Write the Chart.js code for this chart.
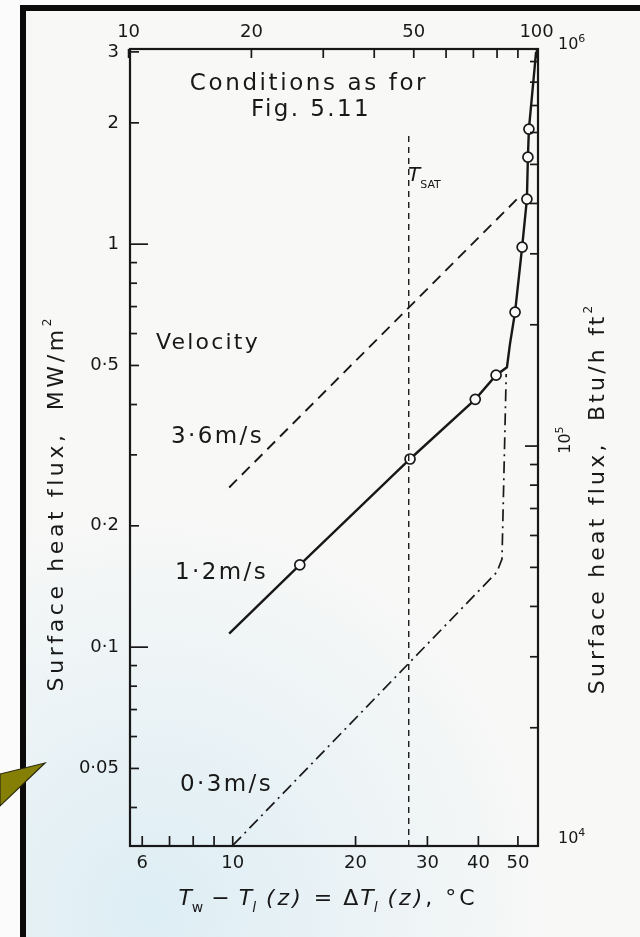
<!DOCTYPE html>
<html><head><meta charset="utf-8">
<script src="https://cdn.jsdelivr.net/npm/chart.js@4.4.1/dist/chart.umd.min.js"></script>
<style>html,body{margin:0;padding:0;background:#fff;}canvas{display:block;}</style>
</head><body>
<canvas id="c" width="640" height="937"></canvas>
<script>
// ---------------- data ----------------
// x: temperature difference, degC (bottom axis); y: surface heat flux, MW/m^2
const xLimitsC = [5.6, 56];
const yLimitsMW = [0.0321, 3.05];

// 3.6 m/s (dashed)
const v36X = [9.8, 50.6];
const v36Y = [0.249, 1.316];

// 1.2 m/s (solid with circles)
const v12X = [9.8, 14.6, 27.2, 39.3, 44.2, 47.0, 47.8, 49.2, 51.2, 52.6, 52.9, 53.2, 55.4];
const v12Y = [0.108, 0.160, 0.293, 0.412, 0.473, 0.495, 0.565, 0.678, 0.983, 1.293, 1.644, 1.93, 3.0];
const v12Circle = [0, 1, 1, 1, 1, 0, 0, 1, 1, 1, 1, 1, 0];

// 0.3 m/s (dash-dot)
const v03X = [10.0, 44.4, 45.7, 46.8];
const v03Y = [0.0322, 0.1535, 0.1654, 0.476];

// T_SAT vertical reference line
const tsatX = [27.0, 27.0];
const tsatY = [0.0321, 1.9];

// ticks
const bottomTickLabels = [6, 10, 20, 30, 40, 50];
const bottomMinorTicks = [7, 8, 9];
const topTickLabels = [10, 20, 50, 100];
const topMinorTicks = [30, 40, 60, 70, 80, 90];
const leftTickLabels = [3, 2, 1, 0.5, 0.2, 0.1, 0.05];
const leftMajorTicks = [1, 0.1];
const leftMinorTicks = [0.9, 0.8, 0.7, 0.6, 0.4, 0.3, 0.09, 0.08, 0.07, 0.06, 0.04];
const rightTickLabels = [1e4, 1e5, 1e6];
const rightMinorTicks = [2e4, 3e4, 4e4, 5e4, 6e4, 7e4, 8e4, 9e4, 2e5, 3e5, 4e5, 5e5, 6e5, 7e5, 8e5, 9e5];

// unit conversions for the secondary axes
const C_TO_F_DIFF = 1.8;
const BTU_PER_MW = 1 / 3.1546e-6;

// ---------------- rendering ----------------
const FONT = '"DejaVu Sans", sans-serif';
const INK = '#181818';
const pts = (xs, ys) => xs.map((x, i) => ({x, y: ys[i]}));

function drawRuns(ctx, runs, cx, cy, align) {
  let total = 0;
  runs.forEach(r => {
    ctx.font = (r.italic ? 'italic ' : '') + r.size + 'px ' + FONT;
    ctx.letterSpacing = (r.ls || 0) + 'px';
    r.w = ctx.measureText(r.t).width;
    total += r.w;
  });
  let x = align === 'left' ? cx : cx - total / 2;
  runs.forEach(r => {
    ctx.font = (r.italic ? 'italic ' : '') + r.size + 'px ' + FONT;
    ctx.letterSpacing = (r.ls || 0) + 'px';
    ctx.fillText(r.t, x, cy + (r.dy || 0));
    x += r.w;
  });
  ctx.letterSpacing = '0px';
}

const deco = {
  id: 'deco',
  beforeDraw(chart) {
    const ctx = chart.ctx;
    ctx.save();
    ctx.fillStyle = '#fbfbfb';
    ctx.fillRect(0, 0, 640, 937);
    ctx.fillStyle = '#f8f8f7';
    ctx.fillRect(26, 11, 614, 926);
    const g = ctx.createRadialGradient(150, 910, 10, 150, 910, 400);
    g.addColorStop(0, 'rgba(220,237,244,0.95)');
    g.addColorStop(1, 'rgba(220,237,244,0)');
    ctx.fillStyle = g;
    ctx.fillRect(26, 11, 614, 926);
    ctx.fillStyle = '#0b0b0b';
    ctx.fillRect(20, 5, 620, 6);
    ctx.fillRect(20, 5, 6, 932);
    ctx.restore();
  },
  afterDraw(chart) {
    const {ctx, chartArea: a, scales} = chart;
    ctx.save();
    ctx.strokeStyle = INK;
    ctx.fillStyle = INK;
    ctx.lineWidth = 2.2;
    ctx.strokeRect(a.left, a.top, a.right - a.left, a.bottom - a.top);

    const line = (x1, y1, x2, y2, w) => {
      ctx.lineWidth = w || 1.7;
      ctx.beginPath(); ctx.moveTo(x1, y1); ctx.lineTo(x2, y2); ctx.stroke();
    };
    bottomTickLabels.concat(bottomMinorTicks).forEach(v => {
      const x = scales.x.getPixelForValue(v); line(x, a.bottom, x, a.bottom - 10);
    });
    topTickLabels.concat(topMinorTicks).forEach(v => {
      const x = scales.x2.getPixelForValue(v); line(x, a.top, x, a.top + 9);
    });
    leftTickLabels.forEach(v => {
      const y = scales.y.getPixelForValue(v);
      line(a.left, y, a.left + (leftMajorTicks.includes(v) ? 18 : 9), y);
    });
    leftMinorTicks.forEach(v => {
      const y = scales.y.getPixelForValue(v); line(a.left, y, a.left + 7, y);
    });
    rightMinorTicks.forEach(v => {
      const y = scales.y2.getPixelForValue(v); line(a.right, y, a.right - 8, y);
    });
    rightTickLabels.forEach(v => {
      const y = scales.y2.getPixelForValue(v);
      if (y > a.top && y < a.bottom) line(a.right, y, a.right - 13, y);
    });

    // right axis labels 10^4, 10^5 (rotated), 10^6
    ctx.textBaseline = 'middle';
    rightTickLabels.forEach(v => {
      const y = scales.y2.getPixelForValue(v);
      const e = String(Math.round(Math.log10(v)));
      if (v === 1e5) {
        ctx.save();
        ctx.translate(a.right + 28, y - 6);
        ctx.rotate(-Math.PI / 2);
        drawRuns(ctx, [{t: '10', size: 16}, {t: e, size: 11, dy: -6}], 0, 0, 'center');
        ctx.restore();
      } else {
        drawRuns(ctx, [{t: '10', size: 16}, {t: e, size: 11, dy: -6}], a.right + 20, v === 1e4 ? y - 10 : y + 2, 'left');
      }
    });

    // annotations
    ctx.textBaseline = 'middle';
    drawRuns(ctx, [{t: 'Conditions as for', size: 23, ls: 2.6}], 309, 84, 'center');
    drawRuns(ctx, [{t: 'Fig. 5.11', size: 23, ls: 2.4}], 311, 110, 'center');
    drawRuns(ctx, [{t: 'Velocity', size: 22, ls: 2.2}], 156, 343, 'left');
    drawRuns(ctx, [{t: '3·6m/s', size: 23, ls: 2.4}], 171, 437, 'left');
    drawRuns(ctx, [{t: '1·2m/s', size: 23, ls: 2.4}], 175, 573, 'left');
    drawRuns(ctx, [{t: '0·3m/s', size: 23, ls: 2.4}], 180, 785, 'left');

    ctx.textBaseline = 'alphabetic';
    drawRuns(ctx, [{t: 'T', size: 20, italic: true}, {t: 'SAT', size: 11, dy: 7}], 408, 181, 'left');

    // bottom axis title
    drawRuns(ctx, [
      {t: 'T', size: 22, italic: true}, {t: 'w', size: 14, dy: 7},
      {t: ' − ', size: 22, ls: 1}, {t: 'T', size: 22, italic: true}, {t: 'l', size: 14, dy: 7, italic: true},
      {t: ' (z) ', size: 22, italic: true, ls: 3}, {t: '= Δ', size: 22, ls: 2}, {t: 'T', size: 22, italic: true},
      {t: 'l', size: 14, dy: 7, italic: true}, {t: ' (z)', size: 22, italic: true, ls: 3}, {t: ', °C', size: 22, ls: 3}
    ], 328, 905, 'center');

    // left / right axis titles
    ctx.textBaseline = 'middle';
    ctx.save();
    ctx.translate(57, 505); ctx.rotate(-Math.PI / 2);
    drawRuns(ctx, [{t: 'Surface heat flux,  MW/m', size: 22, ls: 3.6}, {t: '2', size: 12, dy: -9}], 0, 0, 'center');
    ctx.restore();
    ctx.save();
    ctx.translate(598, 500); ctx.rotate(-Math.PI / 2);
    drawRuns(ctx, [{t: 'Surface heat flux,  Btu/h ft', size: 22, ls: 3.2}, {t: '2', size: 12, dy: -9}], 0, 0, 'center');
    ctx.restore();

    // olive callout pointer at the left margin
    ctx.fillStyle = '#857f05';
    ctx.strokeStyle = '#2a2a10';
    ctx.lineWidth = 1.2;
    ctx.beginPath();
    ctx.moveTo(0, 774); ctx.lineTo(45, 763); ctx.lineTo(0, 806); ctx.closePath();
    ctx.fill(); ctx.stroke();
    ctx.restore();
  }
};

const tickFont = {family: FONT, size: 18};
const fmt = v => String(v).replace('.', '·');
const noGrid = {display: false, drawTicks: false, tickLength: 0};

new Chart(document.getElementById('c'), {
  type: 'scatter',
  data: {
    datasets: [
      {data: pts(tsatX, tsatY), showLine: true, borderColor: INK, borderWidth: 1.4, borderDash: [6, 5], pointRadius: 0},
      {data: pts(v36X, v36Y), showLine: true, borderColor: INK, borderWidth: 1.9, borderDash: [11, 7], pointRadius: 0},
      {data: pts(v03X, v03Y), showLine: true, borderColor: INK, borderWidth: 1.7, borderDash: [12, 5, 2, 5], pointRadius: 0},
      {data: pts(v12X, v12Y), showLine: true, borderColor: INK, borderWidth: 2.4,
       pointRadius: v12Circle.map(c => c ? 5 : 0), pointBackgroundColor: '#fafafa',
       pointBorderColor: INK, pointBorderWidth: 1.7}
    ]
  },
  options: {
    responsive: false,
    animation: false,
    layout: {padding: 0},
    plugins: {legend: {display: false}, tooltip: {enabled: false}},
    scales: {
      x: {
        type: 'logarithmic', position: 'bottom', min: xLimitsC[0], max: xLimitsC[1],
        grid: noGrid, border: {display: false},
        afterBuildTicks: s => { s.ticks = bottomTickLabels.map(v => ({value: v})); },
        afterFit: s => { s.height = 91; },
        ticks: {autoSkip: false, maxRotation: 0, padding: 7, font: tickFont, color: INK, callback: v => fmt(v)}
      },
      x2: {
        type: 'logarithmic', position: 'top', min: xLimitsC[0] * C_TO_F_DIFF, max: xLimitsC[1] * C_TO_F_DIFF,
        grid: noGrid, border: {display: false},
        afterBuildTicks: s => { s.ticks = topTickLabels.map(v => ({value: v})); },
        afterFit: s => { s.height = 49; },
        ticks: {autoSkip: false, maxRotation: 0, padding: 6, font: tickFont, color: INK, callback: v => fmt(v)}
      },
      y: {
        type: 'logarithmic', position: 'left', min: yLimitsMW[0], max: yLimitsMW[1],
        grid: noGrid, border: {display: false},
        afterBuildTicks: s => { s.ticks = leftTickLabels.map(v => ({value: v})); },
        afterFit: s => { s.width = 130; },
        ticks: {autoSkip: false, padding: 11, font: tickFont, color: INK, callback: v => fmt(v)}
      },
      y2: {
        type: 'logarithmic', position: 'right', min: yLimitsMW[0] * BTU_PER_MW, max: yLimitsMW[1] * BTU_PER_MW,
        grid: noGrid, border: {display: false},
        afterBuildTicks: s => { s.ticks = rightTickLabels.map(v => ({value: v})); },
        afterFit: s => { s.width = 102; },
        ticks: {display: false}
      }
    }
  },
  plugins: [deco]
});
</script>
</body></html>
